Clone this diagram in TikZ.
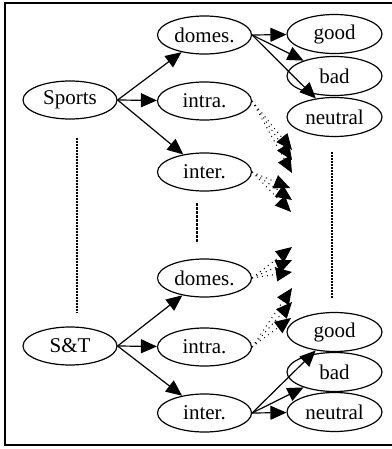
\documentclass[tikz,border=0pt]{standalone}
\usepackage{fontspec}
\setmainfont{Liberation Serif}
\usepackage{tikz}
\usetikzlibrary{arrows.meta,shapes,positioning,calc}
\usepackage{xcolor}
\definecolor{lnblack}{RGB}{0,0,0}
\tikzstyle{arrow} = [line width=0.6pt,-{Triangle[length=8pt,width=7pt]},color=lnblack]
\tikzstyle{dotarrow} = [arrow, line width=0.5pt, dotted]
\tikzstyle{topic} = [ellipse, draw=lnblack, line width=0.6pt, inner sep=0pt, minimum width=47pt, minimum height=19pt, font=\fontsize{10.5}{12}\selectfont]
\tikzstyle{senti} = [topic, minimum width=47.5pt, minimum height=19.5pt]
\tikzstyle{gap} = [line width=0.75pt, dash pattern=on 0.75pt off 0.75pt]
\tikzstyle{biggap} = [line width=1.4pt, dash pattern=on 1.3pt off 0.7pt]

\begin{document}
\begin{tikzpicture}[x=0.5pt, y=-0.5pt]
    \useasboundingbox (0,0) rectangle (391,449);
    % Frame
    \draw[line width=0.75pt] (5,3) rectangle (395,445);

    % Category nodes
    \node[topic] (sports) at (70,100) {Sports};
    \node[topic] (st) at (70,346) {S\&T};

    % Top scope nodes
    \node[topic] (domesA) at (204.5,35) {domes.};
    \node[topic] (intraA) at (204.5,101) {intra.};
    \node[topic] (interA) at (204.5,172) {inter.};

    % Bottom scope nodes
    \node[topic] (domesB) at (204.5,278) {domes.};
    \node[topic] (intraB) at (204.5,347) {intra.};
    \node[topic] (interB) at (204.5,413) {inter.};

    % Top sentiment nodes
    \node[senti] (goodA) at (334.5,34) {good};
    \node[senti] (badA) at (334.5,76) {bad};
    \node[senti] (neutralA) at (334.5,117) {neutral};

    % Bottom sentiment nodes
    \node[senti] (goodB) at (334.5,332) {good};
    \node[senti] (badB) at (334.5,372) {bad};
    \node[senti] (neutralB) at (334.5,412) {neutral};

    % Hidden ends of the dotted arrows
    \coordinate (ia1) at (292,150);
    \coordinate (ia2) at (292,160);
    \coordinate (ia3) at (292,173);
    \coordinate (ea1) at (290,188);
    \coordinate (ea2) at (292,200);
    \coordinate (ea3) at (291,212);
    \coordinate (db1) at (292,247);
    \coordinate (db2) at (292,260);
    \coordinate (db3) at (292,272);
    \coordinate (ib1) at (292,288);
    \coordinate (ib2) at (292,302);
    \coordinate (ib3) at (291,318);

    % Ends of the gap markers
    \coordinate (lgapA) at (77,138);
    \coordinate (lgapB) at (77,313);
    \coordinate (mgapA) at (197,203);
    \coordinate (mgapB) at (197,243);
    \coordinate (rgapA) at (332,152);
    \coordinate (rgapB) at (332,299);

    % Connections
    \draw[arrow] (sports.east) -- (domesA);
    \draw[arrow] (sports.east) -- (intraA);
    \draw[arrow] (sports.east) -- (interA);
    \draw[arrow] (st.east) -- (domesB);
    \draw[arrow] (st.east) -- (intraB);
    \draw[arrow] (st.east) -- (interB);

    \draw[arrow] (domesA.east) -- (goodA);
    \draw[arrow] (domesA.east) -- (badA);
    \draw[arrow] (domesA.east) -- (neutralA);
    \draw[arrow] (interB.east) -- (goodB);
    \draw[arrow] (interB.east) -- (badB);
    \draw[arrow] (interB.east) -- (neutralB);

    \draw[dotarrow] (intraA.east) -- (ia1);
    \draw[dotarrow] (intraA.east) -- (ia2);
    \draw[dotarrow] (intraA.east) -- (ia3);
    \draw[dotarrow] (interA.east) -- (ea1);
    \draw[dotarrow] (interA.east) -- (ea2);
    \draw[dotarrow] (interA.east) -- (ea3);
    \draw[dotarrow] (domesB.east) -- (db1);
    \draw[dotarrow] (domesB.east) -- (db2);
    \draw[dotarrow] (domesB.east) -- (db3);
    \draw[dotarrow] (intraB.east) -- (ib1);
    \draw[dotarrow] (intraB.east) -- (ib2);
    \draw[dotarrow] (intraB.east) -- (ib3);

    % Gap markers
    \draw[gap] (lgapA) -- (lgapB);
    \draw[biggap] (mgapA) -- (mgapB);
    \draw[gap] (rgapA) -- (rgapB);
\end{tikzpicture}
\end{document}
